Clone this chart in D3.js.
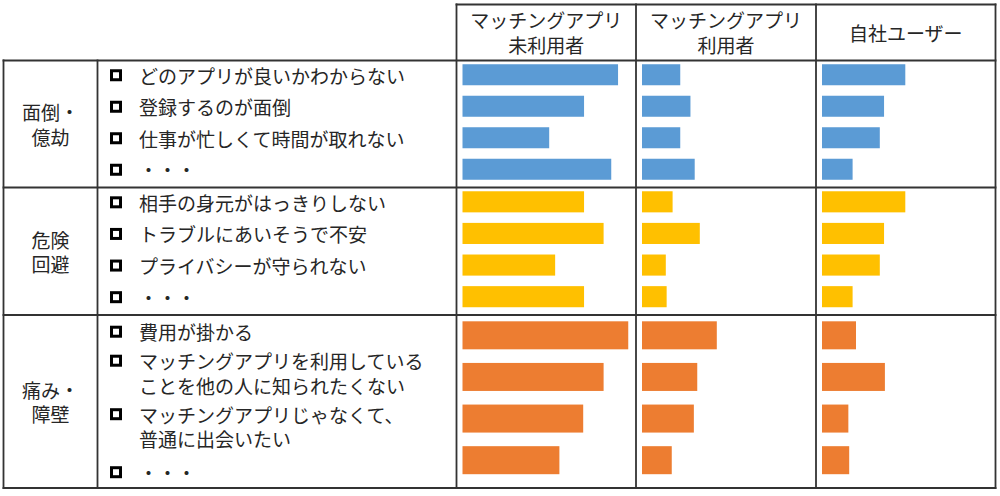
<!DOCTYPE html>
<html>
<head>
<meta charset="utf-8">
<script src="https://cdn.jsdelivr.net/npm/d3@7"></script>
<style>
  html, body { margin: 0; padding: 0; background: #ffffff; }
  svg text { font-family: "Noto Sans CJK JP", "Noto Sans", sans-serif; fill: #262626; }
</style>
</head>
<body>
<svg id="chart" width="1000" height="496"></svg>
<script>
// ---------------- data ----------------
const columnLabels = [["マッチングアプリ", "未利用者"], ["マッチングアプリ", "利用者"], ["自社ユーザー"]];
const groupLabels = [["面倒・", "億劫"], ["危険", "回避"], ["痛み・", "障壁"]];
const groupItems = [
  [["どのアプリが良いかわからない"], ["登録するのが面倒"], ["仕事が忙しくて時間が取れない"], ["・・・"]],
  [["相手の身元がはっきりしない"], ["トラブルにあいそうで不安"], ["プライバシーが守られない"], ["・・・"]],
  [["費用が掛かる"], ["マッチングアプリを利用している", "ことを他の人に知られたくない"], ["マッチングアプリじゃなくて、", "普通に出会いたい"], ["・・・"]]
];
// values per group (4 items each), relative scale 0-100
const nonUserValues = [
  [91.5, 71.5, 51, 87.5],
  [71.5, 83, 54.5, 71.5],
  [97.5, 83, 71, 57]
];
const userValues = [
  [22.5, 28.5, 22.5, 31],
  [18, 34, 14, 14.5],
  [44, 32.5, 30.5, 17.5]
];
const ownUserValues = [
  [49, 36.5, 34, 18],
  [49, 36.5, 34, 18],
  [20, 37, 15.5, 16]
];
const seriesValues = [nonUserValues, userValues, ownUserValues];

// ---------------- layout / style ----------------
const groupColors = ["#5B9BD5", "#FFC000", "#ED7D31"];
const lineColor = "#333333";
const fontSize = 19;

const tableLeft = 3.5, tableRight = 995.5, headerTop = 4.5;
const colEdges = [3.5, 97.5, 456.5, 636, 816, 995.5];
const rowEdges = [60.5, 187.5, 315, 488];
const bandInsets = [[-1.5, 2.5], [-1.5, 2.5], [-0.5, 7]];
const bandPadding = [0.333, 0.333, 0.327];
const barOffset = 6;

const svg = d3.select("#chart");

const x = d3.scaleLinear().domain([0, 100]).range([0, 170]);

const colX = d3.scaleOrdinal().domain(d3.range(columnLabels.length)).range(colEdges.slice(2, 5));

const gBars = svg.append("g");
const gText = svg.append("g");

groupLabels.forEach((gl, gi) => {
  const top = rowEdges[gi], bottom = rowEdges[gi + 1];
  const y = d3.scaleBand()
    .domain(d3.range(groupItems[gi].length))
    .range([top + bandInsets[gi][0], bottom - bandInsets[gi][1]])
    .paddingInner(bandPadding[gi])
    .paddingOuter(bandPadding[gi] / 2);

  // bars
  seriesValues.forEach((series, si) => {
    gBars.selectAll(null)
      .data(series[gi])
      .join("rect")
      .attr("x", colX(si) + barOffset)
      .attr("y", (d, i) => y(i))
      .attr("width", d => x(d))
      .attr("height", y.bandwidth())
      .attr("fill", groupColors[gi]);
  });

  // group label
  const gc = (top + bottom) / 2;
  const lh = 24.5;
  gl.forEach((t, li) => {
    gText.append("text")
      .attr("x", (colEdges[0] + colEdges[1]) / 2)
      .attr("y", gc + (li - (gl.length - 1) / 2) * lh)
      .attr("text-anchor", "middle")
      .attr("dominant-baseline", "central")
      .attr("font-size", fontSize)
      .text(t);
  });

  // item labels
  const items = groupItems[gi];
  const multi = items.some(it => it.length > 1);
  let lineYs;
  if (!multi) {
    lineYs = items.map((it, i) => [y(i) + y.bandwidth() / 2 + 0.5]);
  } else {
    const lineH = 24.5, gap = 4.5;
    let cy = y(0) + y.bandwidth() / 2 - 3.6;
    lineYs = items.map((it, i) => {
      const arr = it.map((_, k) => cy + k * lineH);
      cy = arr[arr.length - 1] + lineH + gap + (i === items.length - 2 ? 4.5 : 0);
      return arr;
    });
  }
  items.forEach((it, i) => {
    gText.append("rect")
      .attr("x", 111.5)
      .attr("y", lineYs[i][0] - 4.5)
      .attr("width", 9)
      .attr("height", 9)
      .attr("fill", "#ffffff")
      .attr("stroke", "#000000")
      .attr("stroke-width", 3);
    it.forEach((t, k) => {
      gText.append("text")
        .attr("x", 139)
        .attr("y", lineYs[i][k])
        .attr("dominant-baseline", "central")
        .attr("font-size", fontSize)
        .text(t);
    });
  });
});

// header labels
columnLabels.forEach((cl, ci) => {
  const cx = (colEdges[ci + 2] + colEdges[ci + 3]) / 2;
  const cy = (headerTop + rowEdges[0]) / 2;
  cl.forEach((t, li) => {
    gText.append("text")
      .attr("x", cx)
      .attr("y", cy + (li - (cl.length - 1) / 2) * 24.5 - 0.5)
      .attr("text-anchor", "middle")
      .attr("dominant-baseline", "central")
      .attr("font-size", fontSize)
      .text(t);
  });
});

// grid lines
const gLines = svg.append("g").attr("stroke", lineColor).attr("stroke-width", 1.8).attr("fill", "none");
gLines.append("line").attr("x1", colEdges[2] - 0.9).attr("x2", tableRight + 0.9).attr("y1", headerTop).attr("y2", headerTop);
rowEdges.forEach(ry => {
  gLines.append("line").attr("x1", tableLeft - 0.9).attr("x2", tableRight + 0.9).attr("y1", ry).attr("y2", ry);
});
colEdges.forEach((cx, i) => {
  const y1 = i >= 2 ? headerTop - 0.9 : rowEdges[0] - 0.9;
  gLines.append("line").attr("x1", cx).attr("x2", cx).attr("y1", y1).attr("y2", rowEdges[rowEdges.length - 1] + 0.9);
});
</script>
</body>
</html>
